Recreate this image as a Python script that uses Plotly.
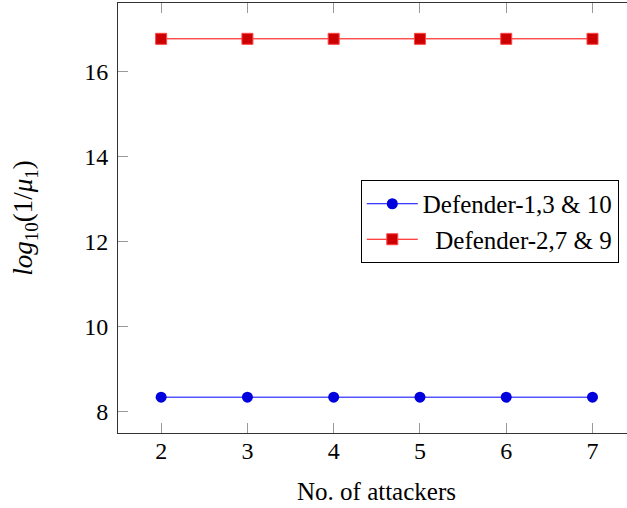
import plotly.graph_objects as go

attackers = [2, 3, 4, 5, 6, 7]
defender_1_3_10 = [8.345, 8.345, 8.345, 8.345, 8.345, 8.345]
defender_2_7_9 = [16.77, 16.77, 16.77, 16.77, 16.77, 16.77]
x_ticks = [2, 3, 4, 5, 6, 7]
y_ticks = [8, 10, 12, 14, 16]
series_names = ["Defender-1,3 & 10", "Defender-2,7 & 9"]

FONT = "Liberation Serif"
NB = "\u00a0"

fig = go.Figure()
fig.add_trace(go.Scatter(
    x=attackers, y=defender_1_3_10, mode="lines+markers",
    name=series_names[0],
    line=dict(color="#0000ff", width=1),
    marker=dict(symbol="circle", size=11, color="#0000dd", line=dict(width=0)),
))
fig.add_trace(go.Scatter(
    x=attackers, y=defender_2_7_9, mode="lines+markers",
    name=NB * 2 + series_names[1],
    line=dict(color="#ff0000", width=1),
    marker=dict(symbol="square", size=11, color="#cc0000", line=dict(width=1, color="#ff4444")),
))

axis_common = dict(
    showgrid=False, zeroline=False, showline=True, linecolor="#333333", linewidth=1,
    ticks="inside", ticklen=10, tickwidth=1, tickcolor="#999999",
    tickfont=dict(family=FONT, size=24, color="black"),
)

fig.update_layout(
    width=627, height=508,
    margin=dict(l=118, r=0, t=3, b=75),
    paper_bgcolor="white", plot_bgcolor="white",
    font=dict(family=FONT, color="black"),
    xaxis=dict(
        range=[1.5, 7.4], tickvals=x_ticks, mirror="ticks",
        ticklabelstandoff=-4,
        **axis_common,
    ),
    yaxis=dict(
        range=[7.503, 17.612], tickvals=y_ticks, mirror=False,
        title=dict(text="<i>log</i><sub>10</sub>(1/<i>μ</i><sub>1</sub>)", font=dict(family=FONT, size=27), standoff=43),
        ticklabelstandoff=4,
        **axis_common,
    ),
    legend=dict(
        x=0.477, y=0.5884, xanchor="left", yanchor="top",
        bgcolor="white", bordercolor="black", borderwidth=1,
        font=dict(family=FONT, size=25),
        tracegroupgap=0, itemwidth=51,
    ),
    showlegend=True,
    annotations=[dict(
        text="No. of attackers", xref="paper", yref="paper",
        x=0.5088, y=0, xanchor="center", yanchor="middle", yshift=-58,
        showarrow=False, font=dict(family=FONT, size=25, color="black"),
    )],
)

fig.write_html("out.html", config={"displayModeBar": False},
               post_script="document.body.style.margin='0';document.body.style.overflow='hidden';")
